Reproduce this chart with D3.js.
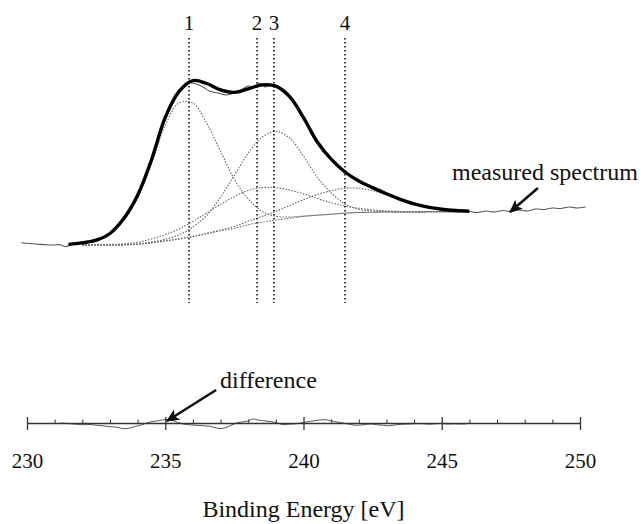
<!DOCTYPE html>
<html>
<head>
<meta charset="utf-8">
<script src="https://cdn.jsdelivr.net/npm/d3@7"></script>
<style>
  body { margin: 0; background: #fff; }
  svg { display: block; font-family: "Liberation Serif", "Times New Roman", serif; }
</style>
</head>
<body>
<svg id="chart" width="643" height="524"></svg>
<script>
// energy grid of the fit (eV)
const fitEnergy = [231.5, 232.0, 232.5, 233.0, 233.5, 234.0, 234.5, 235.0, 235.5, 236.0,
                   236.5, 237.0, 237.5, 238.0, 238.5, 239.0, 239.5, 240.0, 240.5, 241.0,
                   241.5, 242.0, 242.5, 243.0, 243.5, 244.0, 244.5, 245.0, 245.5, 246.0];

// fitted envelope
const fitTotal = [0.6, 2.1, 4.8, 11.5, 26.4, 49.7, 85, 127.6, 153.6, 164.4,
                  161.5, 155.1, 152.6, 156.1, 160.1, 158.8, 148.3, 127.3, 103, 85.8,
                  73, 64, 57.4, 51.2, 45.7, 41.2, 37.9, 35.8, 34.5, 33.8];

// background and the four components (each drawn on top of the background)
const background = [null, 0, 0, 0, 0.2, 0.8, 2.3, 4.1, 6, 8.4,
                    11.2, 14.2, 16.8, 20.3, 22.8, 24.9, 26.8, 28.6, 29.8, 30.8,
                    31.8, 32.5, 32.8, 33, 33, 33, 33.2, 33.3, 33.4, 33.5];
const peak1 = [null, 1.8, 4.8, 11, 24.5, 47, 80.9, 119.9, 142, 142,
               121.6, 93.8, 65.7, 46.1, 33.8, 28.7, 28, 28.9, 29.8, 30.8,
               31.8, 32.5, 32.8, 33, 33, 33, 33.2, 33.3, 33.4, 33.5];
const peak2 = [null, 0, 0.2, 0.5, 1.2, 2.7, 6, 10.4, 16.1, 23.5,
               32, 40.7, 48.3, 54.6, 57.4, 57.3, 54.9, 51.1, 46.4, 42.3,
               39.1, 36.7, 35.2, 34.2, 33.5, 33.2, 33.2, 33.3, 33.4, 33.5];
const peak3 = [null, 0, 0, 0, 0.2, 1, 2.9, 5.7, 10.1, 18.1,
               29.6, 47.9, 69.6, 91.9, 107.8, 113.6, 106.8, 88.8, 67.7, 52.2,
               41, 35.8, 34.1, 33.4, 33, 33, 33.2, 33.3, 33.4, 33.5];
const peak4 = [null, 0, 0, 0, 0.2, 0.8, 2.3, 4.1, 6.1, 8.6,
               11.7, 15.1, 18.6, 23.7, 28.5, 33.7, 39.4, 45.4, 50.5, 54.3,
               56.7, 56.7, 54.3, 50.2, 45.4, 41, 37.8, 35.7, 34.5, 33.8];

// measured spectrum
const measuredEnergy = [229.8, 230.1, 230.4, 230.7, 231.0, 231.2, 231.4, 231.6, 231.8, 232.0,
                        232.5, 233.0, 233.5, 234.0, 234.5, 235.0, 235.5, 235.8, 236.0, 236.3,
                        236.6, 236.9, 237.2, 237.5, 237.8, 238.0, 238.2, 238.4, 238.6, 238.8,
                        239.0, 239.5, 240.0, 240.5, 241.0, 241.5, 242.0, 242.5, 243.0, 243.5,
                        244.0, 244.5, 245.0, 245.5, 246.0, 246.3, 246.6, 246.9, 247.2, 247.5,
                        247.8, 248.1, 248.4, 248.7, 249.0, 249.3, 249.6, 249.9, 250.2];
const measured = [2.3, 1.5, 0.8, 0.2, 0, 0.3, -1.7, 0.5, 1, 2.2,
                  5, 11, 27, 49, 84, 126, 152, 162, 162, 159,
                  154, 152, 150, 152, 156, 159, 158, 162, 158, 161,
                  158.5, 147.5, 128, 102.5, 86.5, 73.5, 63.5, 57.5, 50.5, 46,
                  41, 38.5, 35.5, 34.5, 33.5, 32.5, 34, 33, 34.5, 33.5,
                  35, 34, 36, 35.5, 37, 36.5, 38, 37, 38];

// difference (measured - fit)
const diffEnergy = [231.2, 231.45, 231.67, 232.04, 232.3, 232.52, 232.75, 233.0, 233.25, 233.48,
                    233.72, 233.9, 234.09, 234.25, 234.45, 234.65, 234.81, 234.99, 235.15, 235.29,
                    235.45, 235.65, 235.9, 236.14, 236.4, 236.62, 236.8, 236.98, 237.22, 237.4,
                    237.58, 237.75, 237.95, 238.19, 238.35, 238.55, 238.75, 238.91, 239.1, 239.27,
                    239.45, 239.63, 239.9, 240.11, 240.4, 240.72, 240.9, 241.08, 241.25, 241.44,
                    241.7, 241.92, 242.15, 242.41, 242.65, 242.89, 243.1, 243.37, 243.6, 243.85,
                    244.1, 244.3, 244.55, 244.8, 245.0, 245.2, 245.5, 245.7, 245.9];
const difference = [0, -0.5, -1, -1.7, -1.5, -2.3, -2.8, -3.7, -4.2, -5.7,
                    -5, -3.5, -2.3, -0.8, 1, 1.8, 2.7, 3.3, 3, 2.3,
                    0.5, -1, -1.8, -2.3, -2.7, -3.3, -4.5, -5.7, -4.3, -2,
                    0, 1, 1.7, 4, 3, 2.3, 1.5, 1, -0.5, -1.7,
                    -1.2, -1, 0, 1, 2.3, 3.3, 2.8, 1.7, 0.8, 0,
                    -1.5, -2.3, -1.8, -1, -1.7, -2.3, -2.8, -1.7, -1.2, -1,
                    -0.6, -0.7, -1.2, -0.7, -0.5, -1, -0.8, -1, -0.8];

// peak positions
const peakEnergy = [235.86, 238.32, 238.93, 241.5];
const peakLabels = ['1', '2', '3', '4'];

const majorTicks = [230, 235, 240, 245, 250];
const minorTicks = [231, 232, 233, 234, 236, 237, 238, 239, 241, 242, 243, 244, 246, 247, 248, 249];

const svg = d3.select('#chart');
svg.append('rect').attr('width', 643).attr('height', 524).attr('fill', '#fff');

const x = d3.scaleLinear().domain([230, 250]).range([27, 580]);
const yTop = d3.scaleLinear().domain([0, 164]).range([245, 81]);
const yDiff = d3.scaleLinear().domain([-10, 10]).range([433, 413]);

const seriesLine = (xs, ys, yScale) => d3.line()
  .defined((d, i) => ys[i] != null)
  .x((d, i) => x(xs[i]))
  .y((d, i) => yScale(ys[i]))
  .curve(d3.curveCatmullRom)(xs);

// components + background, thin grey dotted
[background, peak1, peak2, peak3, peak4].forEach(ys => {
  svg.append('path')
    .attr('d', seriesLine(fitEnergy, ys, yTop))
    .attr('fill', 'none')
    .attr('stroke', '#666')
    .attr('stroke-width', 1.1)
    .attr('stroke-dasharray', '1.5,1.5');
});

// peak markers
svg.selectAll('.peak-line')
  .data(peakEnergy)
  .join('line')
  .attr('x1', d => x(d)).attr('x2', d => x(d))
  .attr('y1', yTop(207)).attr('y2', yTop(-58))
  .attr('stroke', '#111')
  .attr('stroke-width', 1.6)
  .attr('stroke-dasharray', '1.6,2.4');

svg.selectAll('.peak-label')
  .data(peakEnergy)
  .join('text')
  .attr('x', d => x(d))
  .attr('y', yTop(215))
  .attr('text-anchor', 'middle')
  .attr('font-size', 21)
  .attr('fill', '#111')
  .text((d, i) => peakLabels[i]);

// measured spectrum
svg.append('path')
  .attr('d', seriesLine(measuredEnergy, measured, yTop))
  .attr('fill', 'none')
  .attr('stroke', '#555')
  .attr('stroke-width', 1.1);

// fit envelope
svg.append('path')
  .attr('d', seriesLine(fitEnergy, fitTotal, yTop))
  .attr('fill', 'none')
  .attr('stroke', '#000')
  .attr('stroke-width', 3.4)
  .attr('stroke-linejoin', 'round');

// difference trace
svg.append('path')
  .attr('d', seriesLine(diffEnergy, difference, yDiff))
  .attr('fill', 'none')
  .attr('stroke', '#555')
  .attr('stroke-width', 1);

// axis
const axisY = yDiff(0);
svg.append('g')
  .attr('transform', `translate(0,${axisY})`)
  .call(d3.axisBottom(x).tickValues(majorTicks).tickSize(7).tickSizeOuter(0).tickPadding(23).tickFormat(d3.format('d')))
  .call(g => g.select('.domain').attr('stroke', '#333').attr('stroke-width', 1.3))
  .call(g => g.selectAll('.tick line').attr('stroke', '#333').attr('stroke-width', 1.3))
  .call(g => g.selectAll('.tick text').attr('font-size', 21).attr('fill', '#111')
    .attr('font-family', '"Liberation Serif", "Times New Roman", serif'));

svg.append('g')
  .attr('transform', `translate(0,${axisY})`)
  .call(d3.axisTop(x).tickValues(majorTicks).tickSize(6).tickSizeOuter(0).tickFormat(''))
  .call(g => g.select('.domain').remove())
  .call(g => g.selectAll('.tick line').attr('stroke', '#333').attr('stroke-width', 1.3));

svg.append('g')
  .attr('transform', `translate(0,${axisY})`)
  .call(d3.axisTop(x).tickValues(minorTicks).tickSize(3.5).tickSizeOuter(0).tickFormat(''))
  .call(g => g.select('.domain').remove())
  .call(g => g.selectAll('.tick line').attr('stroke', '#333').attr('stroke-width', 1));

svg.append('text')
  .attr('x', x(240))
  .attr('y', 517)
  .attr('text-anchor', 'middle')
  .attr('font-size', 24)
  .attr('fill', '#111')
  .text('Binding Energy [eV]');

// annotations
svg.append('defs').append('marker')
  .attr('id', 'arrow')
  .attr('markerUnits', 'userSpaceOnUse')
  .attr('markerWidth', 14).attr('markerHeight', 12)
  .attr('refX', 12).attr('refY', 6)
  .attr('orient', 'auto')
  .append('path')
  .attr('d', 'M0,0 L13,6 L0,12 L3,6 Z')
  .attr('fill', '#111');

svg.append('text')
  .attr('x', x(245.37))
  .attr('y', yTop(65))
  .attr('font-size', 24)
  .attr('fill', '#111')
  .text('measured spectrum');

svg.append('line')
  .attr('x1', x(248.48)).attr('y1', yTop(57))
  .attr('x2', x(247.47)).attr('y2', yTop(33))
  .attr('stroke', '#111').attr('stroke-width', 2.6)
  .attr('marker-end', 'url(#arrow)');

svg.append('text')
  .attr('x', x(236.98))
  .attr('y', yDiff(35))
  .attr('font-size', 24)
  .attr('fill', '#111')
  .text('difference');

svg.append('line')
  .attr('x1', x(236.84)).attr('y1', yDiff(33))
  .attr('x2', x(235.06)).attr('y2', yDiff(2))
  .attr('stroke', '#111').attr('stroke-width', 2.6)
  .attr('marker-end', 'url(#arrow)');
</script>
</body>
</html>
